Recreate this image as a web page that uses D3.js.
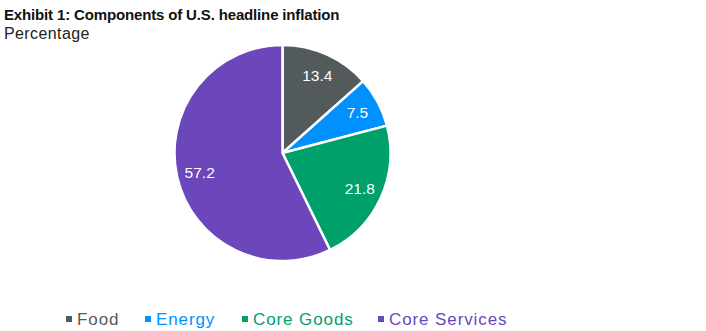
<!DOCTYPE html>
<html><head><meta charset="utf-8">
<script src="https://cdn.jsdelivr.net/npm/d3@7"></script>
<style>body{margin:0;background:#fff;}svg{display:block;}</style>
</head><body>
<svg id="c" width="706" height="331"></svg>
<script>
const categories = ["Food", "Energy", "Core Goods", "Core Services"];
const values = [13.4, 7.5, 21.8, 57.2];
const colors = ["#535a5b", "#0091ff", "#00a06a", "#6b47bb"];
const valueLabels = ["13.4", "7.5", "21.8", "57.2"];

const svg = d3.select("#c");
const font = "'Liberation Sans', Arial, sans-serif";

svg.append("text").attr("x", 4).attr("y", 20).attr("font-family", font)
  .attr("font-size", 15).attr("font-weight", "bold").attr("letter-spacing", -0.15).attr("fill", "#111")
  .text("Exhibit 1: Components of U.S. headline inflation");
svg.append("text").attr("x", 4).attr("y", 39).attr("font-family", font)
  .attr("font-size", 16).attr("letter-spacing", 0.4).attr("fill", "#222").text("Percentage");

const cx = 282.5, cy = 153, r = 108;
const data = categories.map((c, i) => ({cat: c, v: values[i], col: colors[i], lab: valueLabels[i]}));
const pie = d3.pie().value(d => d.v).sort(null);
const arc = d3.arc().innerRadius(0).outerRadius(r);
const labelArc = d3.arc().innerRadius(85).outerRadius(85);
const g = svg.append("g").attr("transform", `translate(${cx},${cy})`);
const arcs = pie(data);
g.selectAll("path").data(arcs).join("path")
  .attr("d", arc).attr("fill", d => d.data.col)
  .attr("stroke", "#fff").attr("stroke-width", 2.5).attr("stroke-linejoin", "round");
g.selectAll("text").data(arcs).join("text")
  .attr("transform", d => `translate(${labelArc.centroid(d)})`)
  .attr("text-anchor", "middle").attr("dy", "0.36em")
  .attr("font-family", font).attr("font-size", 15.5).attr("fill", "#fff")
  .text(d => d.data.lab);

// legend
const legX = [66, 145, 242, 378];
const lg = svg.append("g");
data.forEach((d, i) => {
  lg.append("rect").attr("x", legX[i]).attr("y", 316).attr("width", 6).attr("height", 6).attr("fill", d.col);
  lg.append("text").attr("x", legX[i] + 11).attr("y", 325).attr("font-family", font)
    .attr("font-size", 17).attr("letter-spacing", 0.9).attr("fill", d.col).text(d.cat);
});
</script>
</body></html>
